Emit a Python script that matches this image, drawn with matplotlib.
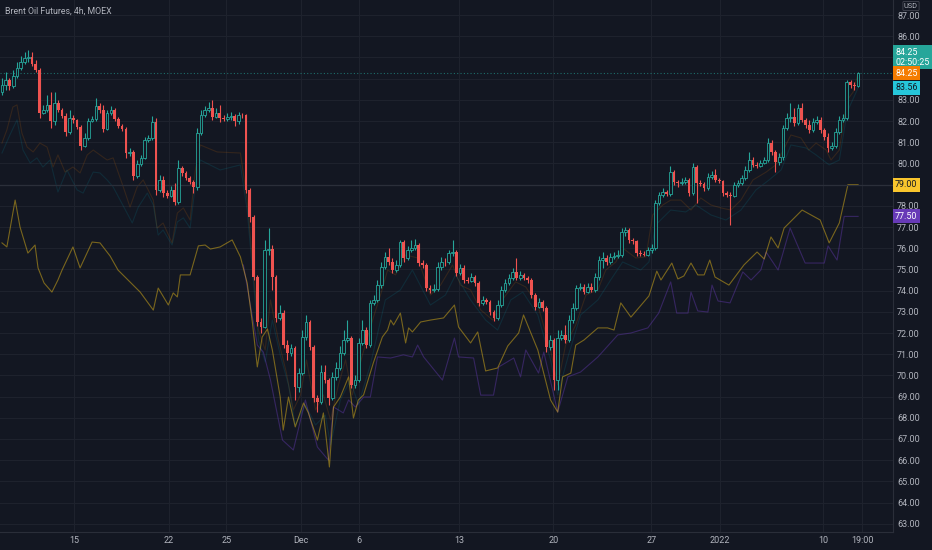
import numpy as np
import matplotlib
matplotlib.use("Agg")
import matplotlib.pyplot as plt

plt.rcParams['font.family'] = ['Roboto', 'DejaVu Sans']

# Brent Oil Futures, 4h, MOEX
first_open = 83.37

closes = [
    83.70, 83.93, 83.65, 84.12, 84.50, 84.78, 84.97, 85.02, 84.69, 84.41,
    82.38, 82.52, 82.76, 82.00, 82.85, 82.52, 82.24, 81.48, 82.14, 82.05,
    81.72, 80.82, 81.20, 82.00, 82.10, 82.71, 82.52, 81.62, 82.38, 82.52,
    82.10, 81.76, 81.62, 80.49, 80.54, 79.41, 79.97, 80.26, 81.10, 81.20,
    81.95, 78.75, 79.22, 78.60, 78.46, 78.75, 78.18, 79.78, 79.55, 79.31,
    79.12, 78.89, 81.43, 82.28, 82.52, 82.61, 82.19, 82.38, 82.14, 82.10,
    82.19, 82.24, 82.00, 82.28, 82.26, 78.75, 77.47, 74.64, 72.52, 72.28,
    75.92, 75.96, 74.64, 72.71, 72.94, 71.43, 71.06, 71.29, 69.45, 70.11,
    71.81, 72.52, 71.34, 68.93, 68.75, 70.16, 69.78, 68.93, 69.92, 70.35,
    71.06, 71.67, 71.77, 69.55, 69.78, 71.53, 72.14, 71.43, 73.42, 73.56,
    74.26, 75.11, 75.59, 75.35, 74.97, 75.21, 76.29, 75.54, 75.92, 76.01,
    76.15, 75.30, 75.21, 74.12, 74.03, 74.08, 75.11, 75.35, 75.33, 75.77,
    75.82, 74.83, 75.07, 74.50, 74.45, 74.64, 74.36, 73.42, 73.56, 73.46,
    72.99, 72.71, 73.32, 74.03, 74.36, 74.59, 74.88, 74.59, 74.74, 74.59,
    74.50, 73.79, 73.23, 73.46, 73.18, 71.34, 71.67, 69.78, 71.77, 71.91,
    71.67, 72.61, 73.18, 74.12, 74.17, 73.93, 74.17, 74.03, 74.64, 75.44,
    75.54, 75.35, 75.59, 75.63, 75.68, 76.76, 76.86, 76.39, 76.34, 75.77,
    75.73, 75.70, 75.92, 76.01, 78.13, 78.51, 78.65, 78.56, 79.59, 79.12,
    79.08, 79.14, 79.22, 78.60, 79.83, 79.08, 79.03, 78.84, 79.36, 79.45,
    79.22, 79.17, 78.60, 78.51, 78.46, 78.98, 79.08, 79.31, 79.69, 80.16,
    79.93, 79.88, 80.02, 80.16, 80.96, 80.54, 80.07, 80.30, 81.67, 82.14,
    82.19, 81.91, 82.61, 82.05, 81.81, 81.58, 81.95, 82.05, 81.58, 81.25,
    80.73, 80.82, 81.48, 82.05, 82.14, 83.84, 83.70, 83.65, 84.25,
]
highs = [
    84.03, 84.31, 84.03, 84.41, 84.78, 85.07, 85.26, 85.35, 85.26, 84.88,
    84.50, 82.76, 83.23, 83.37, 83.37, 82.99, 82.61, 82.38, 82.52, 82.28,
    82.10, 81.81, 81.43, 82.14, 82.24, 83.08, 82.85, 82.76, 82.52, 82.71,
    82.61, 82.19, 81.86, 81.72, 80.73, 80.63, 80.16, 80.40, 81.25, 81.34,
    82.24, 82.14, 79.45, 79.41, 78.75, 78.94, 79.08, 80.16, 79.88, 79.64,
    79.41, 79.22, 81.67, 82.52, 82.71, 82.90, 82.99, 82.61, 82.76, 82.28,
    82.38, 82.42, 82.33, 82.42, 82.38, 82.33, 78.84, 77.57, 74.74, 72.71,
    76.39, 76.95, 76.15, 74.74, 73.32, 73.09, 71.67, 71.48, 71.39, 70.35,
    72.14, 72.85, 72.61, 71.43, 69.08, 70.49, 70.49, 69.88, 70.16, 70.63,
    71.39, 72.14, 72.61, 71.86, 70.02, 71.77, 72.61, 72.28, 73.56, 73.79,
    74.50, 75.35, 75.82, 76.01, 75.54, 75.44, 76.39, 76.39, 76.11, 76.39,
    76.43, 76.25, 75.44, 75.30, 74.26, 74.31, 75.35, 75.59, 75.54, 75.92,
    76.39, 75.92, 75.26, 75.21, 74.64, 74.83, 74.74, 74.45, 73.75, 73.65,
    73.56, 73.09, 73.56, 74.22, 74.55, 74.78, 75.07, 75.54, 74.92, 74.83,
    74.69, 74.59, 73.89, 73.65, 73.56, 73.27, 71.91, 71.77, 72.14, 72.14,
    72.38, 72.85, 73.42, 74.26, 74.36, 74.31, 74.36, 74.36, 74.83, 75.63,
    75.82, 75.68, 75.77, 75.82, 75.92, 76.95, 77.00, 76.95, 76.48, 76.39,
    75.92, 75.87, 76.06, 76.20, 78.27, 78.65, 78.84, 78.75, 79.88, 79.69,
    79.22, 79.31, 79.36, 79.31, 80.02, 79.93, 79.22, 79.12, 79.55, 79.64,
    79.74, 79.31, 79.22, 78.70, 78.65, 79.12, 79.22, 79.45, 79.88, 80.54,
    80.30, 80.07, 80.16, 80.30, 81.20, 81.10, 80.63, 80.49, 81.81, 82.38,
    82.85, 82.61, 82.80, 82.85, 82.14, 82.05, 82.14, 82.24, 82.19, 81.67,
    81.43, 81.01, 81.67, 82.24, 82.33, 83.93, 83.93, 83.84, 84.31,
]
lows = [
    83.23, 83.46, 83.46, 83.56, 84.03, 84.41, 84.69, 84.78, 84.60, 84.31,
    82.14, 82.33, 82.42, 81.67, 81.81, 82.42, 82.14, 81.29, 81.39, 81.91,
    81.62, 80.63, 80.77, 81.10, 81.95, 82.00, 82.38, 81.48, 81.58, 82.28,
    82.00, 81.67, 81.53, 80.26, 80.35, 79.22, 79.31, 79.88, 80.21, 81.01,
    81.10, 78.51, 78.65, 78.42, 78.37, 78.42, 78.04, 78.09, 79.41, 79.22,
    79.03, 78.60, 78.75, 81.34, 82.19, 82.42, 82.05, 82.14, 81.95, 82.00,
    82.00, 82.05, 81.76, 81.86, 82.14, 78.60, 77.24, 74.50, 72.33, 72.00,
    72.24, 75.68, 74.03, 72.52, 72.61, 71.29, 70.73, 70.92, 68.84, 69.22,
    70.02, 71.67, 71.20, 68.75, 68.27, 68.65, 69.64, 68.61, 68.84, 69.78,
    70.25, 70.96, 71.58, 69.41, 69.41, 69.69, 71.43, 71.29, 71.34, 73.32,
    73.46, 74.12, 75.02, 75.21, 74.83, 74.88, 75.11, 75.35, 75.44, 75.82,
    75.92, 75.16, 75.07, 73.98, 73.89, 73.93, 73.98, 74.97, 75.16, 75.26,
    75.63, 74.69, 74.74, 74.36, 74.36, 74.41, 74.22, 73.27, 73.32, 73.37,
    72.85, 72.57, 72.61, 73.23, 73.93, 74.26, 74.50, 74.50, 74.50, 74.50,
    74.36, 73.65, 73.09, 73.18, 73.04, 71.10, 71.20, 69.31, 69.31, 71.67,
    71.53, 71.58, 72.47, 73.09, 74.03, 73.84, 73.89, 73.93, 73.93, 74.50,
    75.07, 75.21, 75.26, 75.49, 75.54, 75.59, 76.58, 76.25, 76.20, 75.63,
    75.63, 75.63, 75.63, 75.77, 75.92, 78.04, 78.42, 78.46, 78.46, 78.98,
    78.89, 78.98, 79.03, 78.46, 78.51, 78.13, 78.94, 78.70, 78.75, 79.26,
    79.12, 79.08, 78.46, 78.42, 77.10, 78.42, 78.89, 78.98, 79.22, 79.59,
    79.83, 79.78, 79.83, 79.97, 80.07, 80.40, 79.59, 79.93, 80.16, 81.58,
    81.95, 81.76, 81.81, 81.95, 81.67, 81.43, 81.48, 81.86, 81.43, 81.10,
    80.54, 80.63, 80.73, 81.39, 81.95, 82.05, 83.56, 83.46, 83.60,
]

# comparison series (bar position, value)
yellow_bar = [0, 1.3, 3.5, 4.8, 6.9, 8.8, 9.6, 11.2, 13.3, 14.9, 16.0, 18.9, 20.8,
              24.0, 26.1, 28.8, 30.9, 36.8, 40.3, 41.6, 44.3, 45.6, 46.7, 47.5,
              50.1, 52.3, 54.1, 55.5, 58.1, 61.3, 63.5, 65.3, 66.7, 68.0, 69.3,
              70.7, 72.0, 74.1, 74.9, 76.3, 78.1, 80.3, 81.6, 84.0, 85.6, 87.2,
              88.3, 90.1, 92.3, 93.6, 94.9, 96.3, 98.9, 101.3, 102.7, 103.5, 104.3,
              106.1, 107.5, 108.3, 109.3, 111.5, 114.1, 117.6, 120.5, 121.6, 124.8,
              126.7, 128.8, 132.0, 134.7, 137.6, 138.9, 142.7, 146.1, 148.0, 149.3,
              151.5, 152.8, 155.0, 158.7, 161.3, 163.0, 164.8, 167.5, 172.3, 174.4,
              175.5, 178.4, 180.0, 181.6, 183.5, 185.3, 187.0, 188.5, 189.9, 193.6,
              197.6, 201.1, 203.0, 204.8, 206.7, 208.3, 213.1, 217.9, 220.3, 223.0,
              225.3, 228]
yellow_val = [76.25, 76.06, 78.27, 77.00, 75.77, 76.15, 75.07, 74.36, 73.93, 74.50,
              74.97, 76.06, 75.07, 76.29, 76.25, 75.63, 74.97, 73.93, 73.08, 74.12,
              73.32, 73.89, 73.70, 74.74, 74.74, 76.11, 76.15, 75.96, 76.06, 76.39,
              75.59, 74.36, 72.47, 70.40, 71.81, 72.19, 71.20, 68.98, 67.42, 68.98,
              67.57, 68.70, 68.23, 66.95, 68.23, 65.68, 68.51, 68.98, 69.93, 67.99,
              68.84, 69.08, 70.59, 71.81, 72.14, 72.61, 72.38, 72.94, 71.53, 72.24,
              72.05, 72.52, 72.61, 72.71, 73.32, 72.28, 71.53, 72.05, 70.21, 70.35,
              71.39, 72.00, 72.85, 71.20, 68.84, 68.27, 69.93, 70.11, 71.43, 71.67,
              72.24, 72.24, 72.14, 73.42, 72.75, 73.75, 74.92, 74.50, 75.30, 74.55,
              74.69, 75.30, 74.74, 74.74, 75.44, 74.64, 74.26, 75.21, 75.82, 75.49,
              76.53, 76.01, 76.95, 77.80, 77.33, 76.25, 77.19, 79.00, 79.00]

purple_bar = [64.3, 68.0, 69.6, 71.5, 74.7, 77.6, 80.8, 84.0, 86.9, 88.3, 90.9, 92.3,
              94.1, 96.3, 98.1, 100.0, 103.5, 106.9, 109.3, 110.7, 112.3, 117.3,
              120.5, 121.6, 125.6, 127.5, 130.9, 132.3, 136.3, 138.1, 139.5, 142.9,
              144.3, 148.0, 150.7, 154.1, 158.7, 164.0, 167.5, 172.0, 174.9, 178.1,
              179.7, 182.7, 183.5, 185.3, 188.0, 189.1, 190.7, 193.9, 197.3, 199.5,
              202.1, 203.5, 206.7, 209.9, 213.9, 219.0, 220.0, 222.4, 224.3, 228]
purple_val = [75.21, 71.43, 71.10, 69.78, 66.95, 66.48, 68.84, 66.62, 66.01, 68.51,
              68.23, 68.84, 68.51, 68.98, 68.98, 70.87, 70.82, 70.97, 70.87, 71.43,
              70.87, 69.78, 71.76, 70.87, 70.82, 69.07, 69.07, 70.40, 70.82, 69.93,
              71.20, 70.11, 71.10, 68.27, 69.93, 70.16, 70.87, 71.91, 72.00, 72.24,
              72.94, 74.41, 72.94, 72.94, 73.93, 73.04, 72.99, 74.26, 73.51, 73.42,
              74.88, 74.50, 74.97, 75.82, 74.97, 76.95, 75.30, 75.30, 76.11, 75.44,
              77.50, 77.50]

orange_bar = [0, 1.3, 2.9, 4.0, 5.3, 6.7, 8.3, 10.1, 12.0, 13.6, 14.9, 16.8, 18.9,
              20.8, 22.7, 24.3, 26.1, 28.0, 29.6, 32.3, 34.1, 36.0, 37.6, 40.3, 41.3,
              42.9, 45.3, 46.7, 48.3, 50.1, 51.5, 52.8, 57.3, 63.5, 65.3, 66.7, 68.3,
              70.1, 71.5, 73.6, 75.7, 77.6, 79.5, 81.1, 83.5, 85.6, 87.5, 89.6, 91.5,
              93.3, 96.0, 98.7, 100.8, 102.7, 104.8, 107.5, 110.7, 114.1, 116.8,
              120.0, 122.1, 124.8, 127.5, 130.7, 133.6, 136.8, 139.5, 142.7, 146.1,
              148.0, 150.1, 152.8, 155.5, 158.7, 160.8, 163.5, 165.3, 168.8, 171.5,
              173.3, 176.0, 178.1, 180.8, 183.5, 186.1, 188.8, 191.5, 194.1, 196.8,
              200.0, 203.5, 206.1, 210.1, 212.8, 214.9, 216.8, 219.5, 220.8, 223.0,
              225.1, 226.7, 228]
orange_val = [80.96, 81.58, 82.66, 82.76, 81.43, 80.77, 80.54, 80.96, 80.77, 79.83,
              80.40, 79.59, 79.83, 79.55, 80.40, 80.63, 80.40, 80.16, 80.26, 78.89,
              77.94, 78.89, 79.22, 78.27, 76.95, 77.19, 76.25, 77.66, 77.90, 77.33,
              79.69, 80.87, 80.54, 80.49, 78.27, 75.44, 72.14, 71.20, 73.56, 71.67,
              70.16, 68.37, 69.08, 70.73, 68.37, 69.08, 67.90, 69.55, 70.73, 69.08,
              70.97, 72.61, 73.79, 74.97, 74.74, 75.68, 75.54, 73.79, 74.26, 75.21,
              74.26, 74.03, 73.09, 72.61, 73.65, 74.41, 74.17, 73.32, 71.20, 69.55,
              71.43, 72.38, 73.79, 74.03, 74.97, 75.35, 76.01, 75.54, 75.59, 77.57,
              78.04, 78.27, 78.27, 77.80, 78.37, 78.04, 77.90, 77.80, 78.27, 79.22,
              79.59, 79.93, 81.34, 81.20, 80.63, 80.96, 80.63, 80.16, 80.63, 82.99,
              83.37, 84.25]

cyan_bar = [0, 2.1, 4.0, 5.6, 7.5, 9.3, 10.9, 12.8, 14.9, 17.3, 20.0, 21.6, 24.3,
            26.1, 28.0, 29.6, 33.3, 34.7, 36.3, 38.7, 40.3, 41.6, 42.9, 45.3, 46.7,
            48.3, 50.1, 51.5, 52.8, 58.1, 63.5, 65.3, 66.7, 68.3, 70.1, 72.0, 74.1,
            76.3, 78.1, 80.8, 83.5, 86.1, 87.5, 90.1, 92.8, 94.9, 98.1, 102.1, 106.1,
            109.3, 114.1, 118.1, 120.8, 124.8, 128.8, 132.0, 135.5, 138.7, 142.7,
            146.1, 148.0, 150.9, 154.1, 158.7, 162.1, 165.3, 170.1, 172.3, 174.1,
            178.1, 182.1, 184.8, 188.8, 192.8, 196.8, 200.8, 204.3, 207.5, 210.1,
            214.1, 216.8, 220.3, 223.0, 225.1, 228]
cyan_val = [80.49, 81.34, 82.05, 80.63, 80.02, 80.26, 79.83, 80.16, 78.65, 79.69,
            78.75, 78.60, 79.59, 79.55, 79.22, 78.89, 77.66, 77.19, 77.94, 78.60,
            78.04, 76.62, 76.86, 76.15, 77.24, 77.43, 76.95, 78.98, 80.16, 79.69,
            79.93, 77.80, 74.97, 71.67, 70.63, 72.61, 70.97, 69.55, 67.66, 68.61,
            67.66, 68.13, 66.72, 68.84, 69.78, 68.61, 70.49, 73.56, 74.03, 74.97,
            73.32, 73.79, 74.74, 73.56, 72.61, 72.14, 73.56, 73.93, 72.85, 70.73,
            69.08, 70.97, 72.85, 73.56, 74.50, 75.35, 74.97, 75.35, 77.10, 77.80,
            77.71, 78.04, 77.57, 77.33, 77.80, 78.75, 79.22, 79.69, 80.87, 80.73,
            80.40, 79.93, 80.16, 82.43, 83.56]

time_labels = ['15', '22', '25', 'Dec', '6', '13', '20', '27', '2022', '10', '19:00']
time_label_bars = [19.2, 44.5, 59.7, 79.6, 95.1, 121.7, 146.8, 172.9, 191.3, 218.7, 229.1]

price_ticks = list(range(63, 88))
hidden_ticks = [85, 84, 79]   # covered by the value tags on the scale

BG = '#131722'
GRID = '#1e222d'
TXT = '#b2b5be'
UP = '#26a69a'
DOWN = '#ef5350'

closes = np.array(closes)
highs = np.array(highs)
lows = np.array(lows)
opens = np.concatenate([[first_open], closes[:-1]])
bars = np.arange(len(closes))
up = closes >= opens

fig = plt.figure(figsize=(9.32, 5.5), dpi=100, facecolor=BG)
ax = fig.add_axes([0, 18 / 550, 893 / 932, 532 / 550])
ax.set_facecolor(BG)

# grid
for t in price_ticks:
    ax.axhline(t, color=GRID, lw=0.8, zorder=0)
for b in time_label_bars:
    ax.axvline(b, color=GRID, lw=0.8, zorder=0)

# comparison series (drawn underneath the candles)
ax.plot(orange_bar, orange_val, color='#f57c00', lw=0.8, alpha=0.14, zorder=1)
ax.plot(cyan_bar, cyan_val, color='#00bcd4', lw=0.8, alpha=0.12, zorder=1)
ax.plot(purple_bar, purple_val, color='#673ab7', lw=0.8, alpha=0.42, zorder=1)
ax.plot(yellow_bar, yellow_val, color='#f5c518', lw=0.8, alpha=0.45, zorder=1)

# price lines
ax.axhline(79.00, color='#2b2f3a', lw=0.9, zorder=1)
ax.axhline(closes[-1], color=UP, lw=0.8, ls=(0, (1, 2)), alpha=0.6, zorder=1)

# candles
wick_lo = np.minimum(lows, np.minimum(opens, closes))
wick_hi = np.maximum(highs, np.maximum(opens, closes))
ax.vlines(bars, wick_lo, wick_hi, colors=np.where(up, UP, DOWN), lw=0.8, zorder=2)
body_w = 0.72
dn = ~up
ax.bar(bars[dn], (opens - closes)[dn], bottom=closes[dn], width=body_w,
       color=DOWN, lw=0, zorder=3)
ax.bar(bars[up], np.maximum(closes - opens, 0.03)[up], bottom=opens[up], width=body_w,
       facecolor=BG, edgecolor=UP, lw=0.6, zorder=3)

ax.set_xlim(-0.53, 237.3)
ax.set_ylim(62.613, 87.708)

# axes look
for s in ['top', 'left']:
    ax.spines[s].set_visible(False)
for s in ['right', 'bottom']:
    ax.spines[s].set_color('#2a2e39')
    ax.spines[s].set_linewidth(0.8)

ax.yaxis.tick_right()
ax.set_yticks(price_ticks)
ax.set_yticklabels(['' if t in hidden_ticks else f'{t:.2f}' for t in price_ticks])
ax.tick_params(axis='y', length=0, pad=3, labelsize=6.5, labelcolor=TXT)
ax.set_xticks(time_label_bars)
ax.set_xticklabels(time_labels)
ax.tick_params(axis='x', length=0, pad=3, labelsize=6.5, labelcolor=TXT)

# last value labels on the price scale
def price_tag(val, text, fc, tc, dy=0):
    ax.annotate(text, xy=(1.0, val), xycoords=ax.get_yaxis_transform(),
                xytext=(1.5, dy), textcoords='offset points',
                ha='left', va='center', fontsize=6.4, color=tc, linespacing=1.1,
                bbox=dict(boxstyle='square,pad=0.28', fc=fc, ec='none'),
                annotation_clip=False, zorder=10)

price_tag(closes[-1], f'{closes[-1]:.2f}\n02:50:25', UP, 'white', dy=11.5)
price_tag(closes[-1], f'{orange_val[-1]:.2f}', '#f57c00', 'white')
price_tag(cyan_val[-1], f'{cyan_val[-1]:.2f}', '#26c6da', BG)
price_tag(yellow_val[-1], f'{yellow_val[-1]:.2f}', '#f9c52d', BG)
price_tag(purple_val[-1], f'{purple_val[-1]:.2f}', '#673ab7', 'white')

fig.text(5 / 932, 1 - 11 / 550, 'Brent Oil Futures, 4h, MOEX', fontsize=6.3,
         color=TXT, va='center', ha='left')
fig.text(911 / 932, 1 - 6 / 550, 'USD', fontsize=5.3, color=TXT, va='center',
         ha='center', bbox=dict(boxstyle='round,pad=0.15', fc=BG, ec='#434651', lw=0.6))

fig.savefig('out.png', dpi=100, facecolor=BG)
